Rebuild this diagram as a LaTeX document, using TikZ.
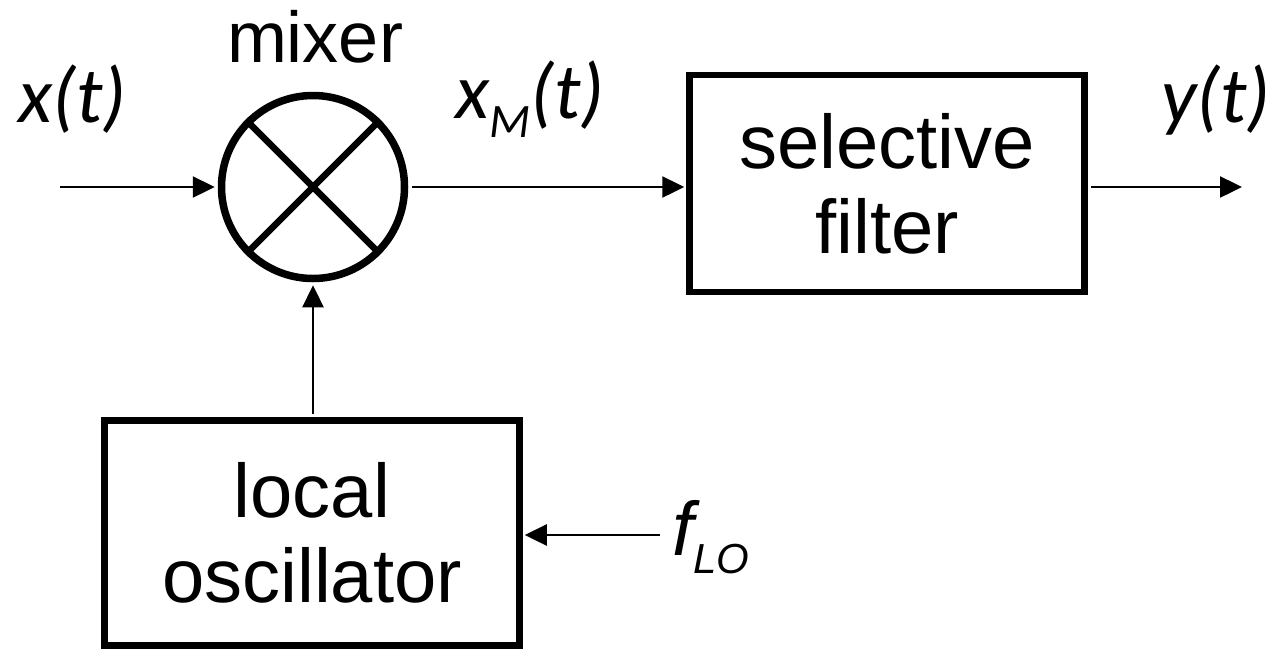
\documentclass[tikz,border=0pt]{standalone}
\usepackage{fontspec}
\setmainfont{Liberation Sans}
\newfontfamily\calib{Carlito}
\usetikzlibrary{arrows.meta, positioning}

\begin{document}
\begin{tikzpicture}[x=1pt, y=-1pt,
          blk/.style={draw, line width=6.5pt, align=center, inner sep=0pt,
                      font=\fontsize{76}{85}\selectfont},
          lbl/.style={inner sep=0pt, font=\fontsize{79}{85}\selectfont\calib\itshape},
          sig/.style={line width=2.4pt, -{Triangle[length=22pt, width=21pt]}}]
        \useasboundingbox (0,0) rectangle (1273,649);
        \node[circle, draw, line width=7.5pt, minimum size=183pt] (mix) at (313,187) {};
        \draw[line width=6.5pt] (mix.45) -- (mix.225) (mix.135) -- (mix.-45);
        \node[blk, minimum width=395pt, minimum height=217pt] (filt) at (887,183.5) {selective\\filter};
        \node[blk, minimum width=415pt, minimum height=225pt] (lo) at (312,533) {local\\oscillator};
        \coordinate (in)  at (60,187);
        \coordinate (out) at (1242,187);
        \coordinate (fin) at (660,535);
        \node[anchor=base, inner sep=0pt, font=\fontsize{72}{80}\selectfont] (mixlbl) at (315,62) {mixer};
        \node[lbl, anchor=base west] (xt) at (18,122) {x(t)};
        \node[lbl, anchor=base west] (xm) at (455,118) {x\raisebox{-19pt}{\fontsize{48}{50}\selectfont M}(t)};
        \node[lbl, anchor=base east] (yt) at (1271,122) {y(t)};
        \node[anchor=base west, inner sep=0pt, font=\fontsize{76}{85}\selectfont\itshape] (flo) at (672,555)
             {f\raisebox{-18pt}{\fontsize{42}{45}\selectfont LO}};
        \draw[sig, shorten >=3pt] (in) -- (mix.west);
        \draw[sig, shorten <=3.5pt, shorten >=2pt] (mix.east) -- (filt.west |- mix.east);
        \draw[sig, shorten <=3pt] (filt.east |- mix.east) -- (out);
        \draw[sig, shorten <=3pt, shorten >=3pt] (lo.north -| mix.south) -- (mix.south);
        \draw[sig, shorten >=2pt] (fin) -- (lo.east |- fin);
      \end{tikzpicture}
\end{document}
